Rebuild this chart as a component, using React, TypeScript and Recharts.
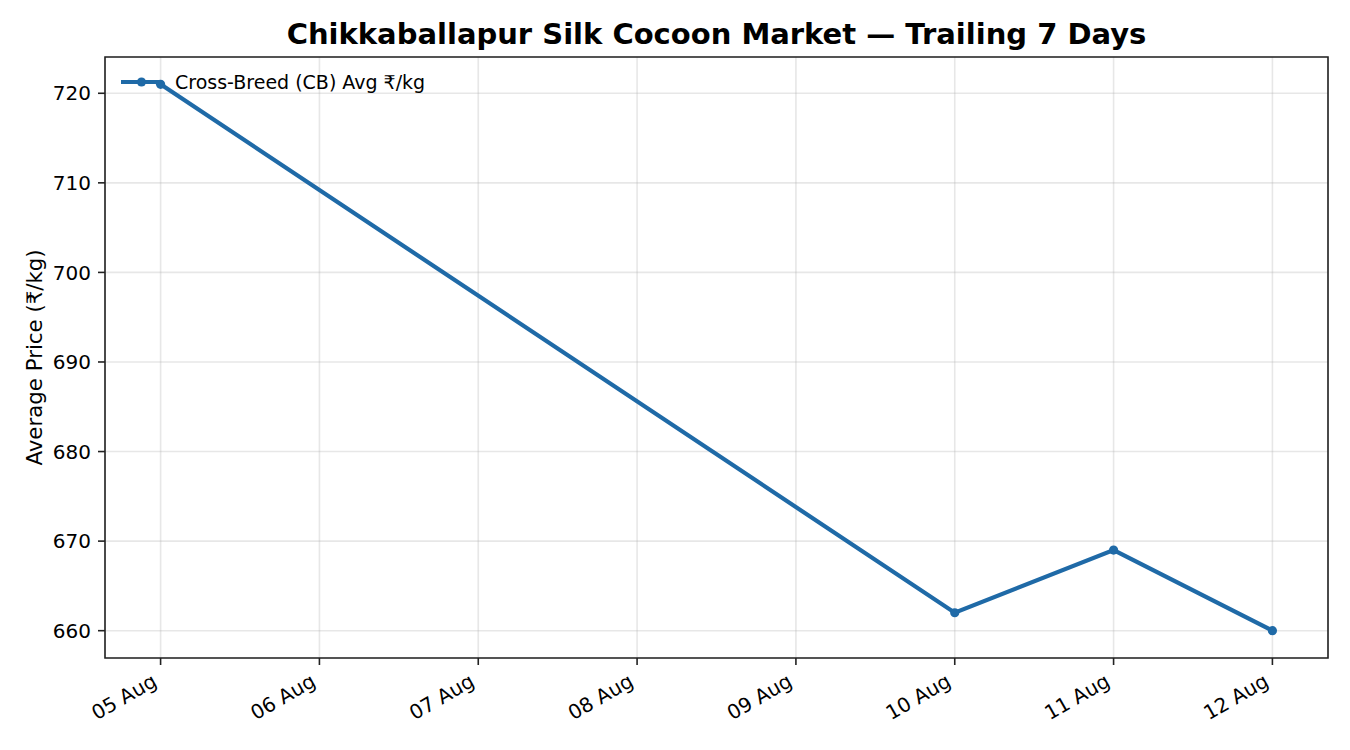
import React from "react";
import {
  LineChart,
  Line,
  XAxis,
  YAxis,
  CartesianGrid,
  ReferenceArea,
} from "recharts";

const dayLabels = ["05 Aug", "06 Aug", "07 Aug", "08 Aug", "09 Aug", "10 Aug", "11 Aug", "12 Aug"];
const obsDays = ["05 Aug", "10 Aug", "11 Aug", "12 Aug"];
const cbPrices = [721, 662, 669, 660];
const yTicks = [660, 670, 680, 690, 700, 710, 720];

const seriesName = "Cross-Breed (CB) Avg ₹/kg";
const titleText = "Chikkaballapur Silk Cocoon Market — Trailing 7 Days";
const yLabelText = "Average Price (₹/kg)";

const data = obsDays.map((d, i) => ({ x: dayLabels.indexOf(d), price: cbPrices[i] }));

const X_DOMAIN: [number, number] = [-0.35, 7.35];
const Y_DOMAIN: [number, number] = [656.95, 724.05];

const FONT = "DejaVu Sans, sans-serif";
const LINE_COLOR = "#1f6aa7";
const AXIS_COLOR = "#222";

const XTick = (props: any) => {
  const { x, y, payload } = props;
  const fs = 20;
  const ex = x - 0.24 * fs * 0.5;
  const ey = y + 0.76 * fs * 0.866;
  return (
    <text
      x={ex}
      y={ey}
      textAnchor="end"
      fontSize={fs}
      fontFamily={FONT}
      fill="#000"
      transform={`rotate(-30, ${ex}, ${ey})`}
    >
      {dayLabels[payload.value]}
    </text>
  );
};

const YTick = (props: any) => {
  const { x, y, payload } = props;
  return (
    <text x={x} y={y} dy="0.36em" textAnchor="end" fontSize={20} fontFamily={FONT} fill="#000">
      {payload.value}
    </text>
  );
};

export default function App() {
  return (
    <div style={{ position: "absolute", left: 0, top: 0, width: 1350, height: 750, background: "#fff" }}>
      <div style={{ position: "absolute", left: 0, top: 0 }}>
        <LineChart
          width={1350}
          height={750}
          data={data}
          margin={{ top: 57, right: 22, bottom: 0, left: 0 }}
        >
          <CartesianGrid stroke="#b0b0b0" strokeOpacity={0.3} strokeWidth={1.6} />
          <XAxis
            dataKey="x"
            type="number"
            domain={X_DOMAIN}
            ticks={[0, 1, 2, 3, 4, 5, 6, 7]}
            allowDataOverflow
            height={92}
            axisLine={false}
            tickLine={{ stroke: AXIS_COLOR, strokeWidth: 1.6 }}
            tickSize={7}
            tickMargin={7}
            tick={<XTick />}
            interval={0}
          />
          <YAxis
            type="number"
            domain={Y_DOMAIN}
            ticks={yTicks}
            allowDataOverflow
            width={105}
            axisLine={false}
            tickLine={{ stroke: AXIS_COLOR, strokeWidth: 1.6 }}
            tickSize={7}
            tickMargin={7}
            tick={<YTick />}
            interval={0}
          />
          <Line
            dataKey="price"
            name={seriesName}
            stroke={LINE_COLOR}
            strokeWidth={4.2}
            dot={{ r: 4.6, fill: LINE_COLOR, stroke: LINE_COLOR, strokeWidth: 0 }}
            activeDot={false}
            isAnimationActive={false}
          />
          <ReferenceArea
            x1={X_DOMAIN[0]}
            x2={X_DOMAIN[1]}
            y1={Y_DOMAIN[0]}
            y2={Y_DOMAIN[1]}
            fill="none"
            fillOpacity={0}
            stroke={AXIS_COLOR}
            strokeWidth={1.6}
            ifOverflow="visible"
          />
        </LineChart>
      </div>
      <svg width={1350} height={750} style={{ position: "absolute", left: 0, top: 0, pointerEvents: "none" }}>
        <text
          x={716.5}
          y={44}
          textAnchor="middle"
          fontSize={29}
          fontWeight="bold"
          fontFamily={FONT}
          fill="#000"
        >
          {titleText}
        </text>
        <text
          x={42}
          y={357.5}
          textAnchor="middle"
          fontSize={21.3}
          fontFamily={FONT}
          fill="#000"
          transform="rotate(-90, 42, 357.5)"
        >
          {yLabelText}
        </text>
        <line x1={121} y1={82} x2={162} y2={82} stroke={LINE_COLOR} strokeWidth={4.2} />
        <circle cx={141.5} cy={82} r={4.6} fill={LINE_COLOR} />
        <text x={175} y={82} dy="0.36em" fontSize={19} fontFamily={FONT} fill="#000">
          {seriesName}
        </text>
      </svg>
    </div>
  );
}
